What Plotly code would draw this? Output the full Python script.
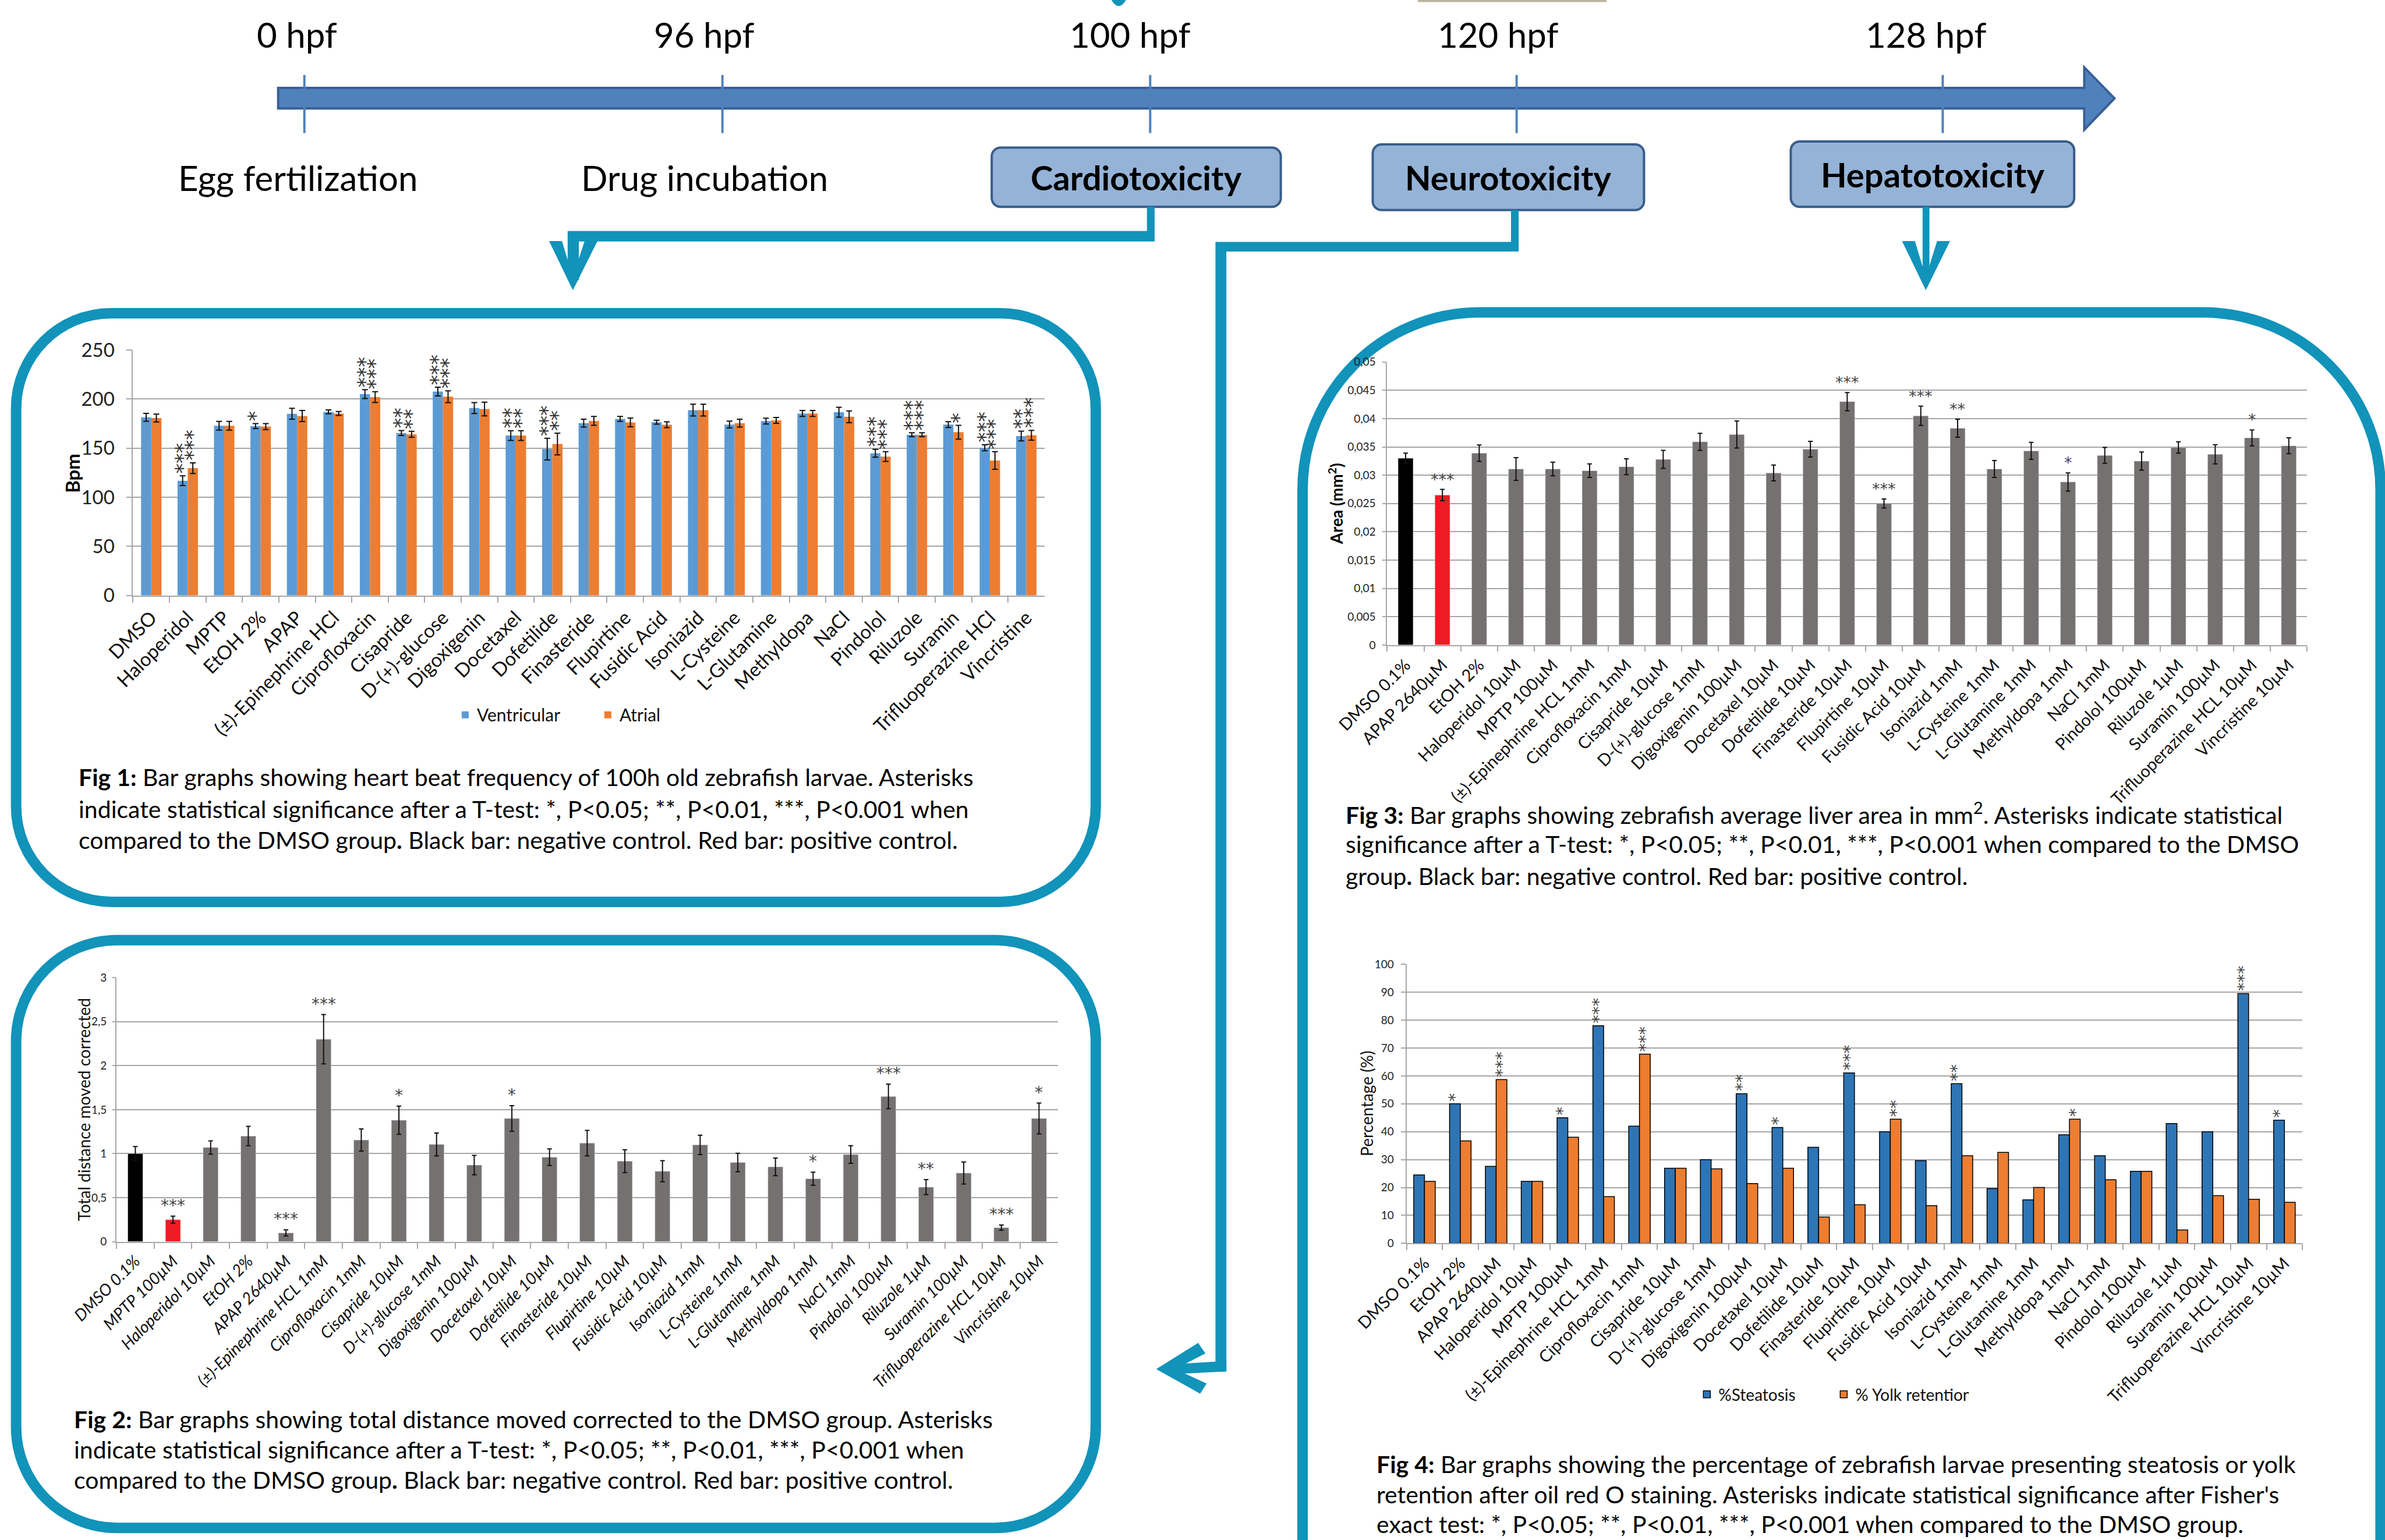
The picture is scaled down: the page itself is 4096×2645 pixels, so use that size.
import plotly.graph_objects as go

# ======================= DATA =======================
heart_categories = ["DMSO", "Haloperidol", "MPTP", "EtOH 2%", "APAP", "(±)-Epinephrine HCl",
                    "Ciprofloxacin", "Cisapride", "D-(+)-glucose", "Digoxigenin", "Docetaxel",
                    "Dofetilide", "Finasteride", "Flupirtine", "Fusidic Acid", "Isoniazid",
                    "L-Cysteine", "L-Glutamine", "Methyldopa", "NaCl", "Pindolol", "Riluzole",
                    "Suramin", "Trifluoperazine HCl", "Vincristine"]
heart_ventricular = [181.4, 116.8, 172.8, 172.5, 185.0, 186.9, 205.0, 165.4, 207.6, 190.8, 162.8,
                     149.0, 175.4, 179.8, 176.4, 188.7, 174.0, 177.5, 185.3, 186.6, 144.8, 163.6,
                     174.0, 150.3, 162.3]
heart_ventricular_err = [4, 5, 4.5, 2.5, 5.5, 2, 4.5, 2.5, 4.5, 5.5, 5, 11, 4, 2.5, 2, 6, 3.5, 3,
                         3, 5, 4, 2, 3, 3, 5]
heart_atrial = [180.6, 129.6, 172.8, 172.0, 182.7, 185.3, 202.0, 164.1, 202.4, 189.8, 162.8,
                154.2, 177.7, 176.2, 173.8, 188.7, 175.4, 178.3, 185.3, 181.9, 141.4, 163.6,
                166.2, 137.4, 163.1]
heart_atrial_err = [4, 5.4, 4.5, 3, 5.6, 2, 5.5, 3, 6, 7, 5, 11, 4.5, 4.5, 3, 6, 4, 3, 3, 6, 5,
                    2, 7, 9, 5]
heart_ventricular_sig = ["", "***", "", "*", "", "", "***", "**", "***", "", "**", "***", "", "",
                         "", "", "", "", "", "", "***", "***", "", "***", "**"]
heart_atrial_sig = ["", "***", "", "", "", "", "***", "**", "***", "", "**", "**", "", "", "",
                    "", "", "", "", "", "***", "***", "*", "***", "***"]

neuro_categories = ["DMSO 0.1%", "MPTP 100µM", "Haloperidol 10µM", "EtOH 2%", "APAP 2640µM",
                    "(±)-Epinephrine HCL 1mM", "Ciprofloxacin 1mM", "Cisapride 10µM",
                    "D-(+)-glucose 1mM", "Digoxigenin 100µM", "Docetaxel 10µM", "Dofetilide 10µM",
                    "Finasteride 10µM", "Flupirtine 10µM", "Fusidic Acid 10µM", "Isoniazid 1mM",
                    "L-Cysteine 1mM", "L-Glutamine 1mM", "Methyldopa 1mM", "NaCl 1mM",
                    "Pindolol 100µM", "Riluzole 1µM", "Suramin 100µM", "Trifluoperazine HCL 10µM",
                    "Vincristine 10µM"]
neuro_distance = [1.00, 0.25, 1.07, 1.20, 0.10, 2.30, 1.155, 1.38, 1.105, 0.87, 1.40, 0.96, 1.12,
                  0.915, 0.80, 1.10, 0.90, 0.85, 0.715, 0.99, 1.65, 0.62, 0.78, 0.16, 1.40]
neuro_err = [0.08, 0.04, 0.075, 0.11, 0.035, 0.28, 0.125, 0.16, 0.13, 0.11, 0.145, 0.095, 0.145,
             0.13, 0.12, 0.11, 0.105, 0.10, 0.075, 0.10, 0.14, 0.085, 0.125, 0.03, 0.175]
neuro_sig = ["", "***", "", "", "***", "***", "", "*", "", "", "*", "", "", "", "", "", "", "",
             "*", "", "***", "**", "", "***", "*"]
neuro_positive = "MPTP 100µM"

liver_categories = ["DMSO 0.1%", "APAP 2640µM", "EtOH 2%", "Haloperidol 10µM", "MPTP 100µM",
                    "(±)-Epinephrine HCL 1mM", "Ciprofloxacin 1mM", "Cisapride 10µM",
                    "D-(+)-glucose 1mM", "Digoxigenin 100µM", "Docetaxel 10µM", "Dofetilide 10µM",
                    "Finasteride 10µM", "Flupirtine 10µM", "Fusidic Acid 10µM", "Isoniazid 1mM",
                    "L-Cysteine 1mM", "L-Glutamine 1mM", "Methyldopa 1mM", "NaCl 1mM",
                    "Pindolol 100µM", "Riluzole 1µM", "Suramin 100µM", "Trifluoperazine HCL 10µM",
                    "Vincristine 10µM"]
liver_area = [0.0330, 0.0265, 0.0339, 0.0311, 0.0311, 0.0308, 0.0315, 0.0328, 0.0359, 0.0372,
              0.0304, 0.0346, 0.0430, 0.0250, 0.0405, 0.0383, 0.0311, 0.0343, 0.0288, 0.0335,
              0.0325, 0.0349, 0.0337, 0.0366, 0.0352]
liver_err = [0.0009, 0.0010, 0.00145, 0.0020, 0.0012, 0.0012, 0.0014, 0.0016, 0.0015, 0.0024,
             0.0014, 0.0014, 0.0016, 0.0008, 0.0017, 0.0016, 0.0015, 0.0015, 0.0016, 0.0014,
             0.0016, 0.0010, 0.0017, 0.0014, 0.0014]
liver_sig = ["", "***", "", "", "", "", "", "", "", "", "", "", "***", "***", "***", "**", "", "",
             "*", "", "", "", "", "*", ""]
liver_positive = "APAP 2640µM"

steatosis_categories = ["DMSO 0.1%", "EtOH 2%", "APAP 2640µM", "Haloperidol 10µM", "MPTP 100µM",
                        "(±)-Epinephrine HCL 1mM", "Ciprofloxacin 1mM", "Cisapride 10µM",
                        "D-(+)-glucose 1mM", "Digoxigenin 100µM", "Docetaxel 10µM",
                        "Dofetilide 10µM", "Finasteride 10µM", "Flupirtine 10µM",
                        "Fusidic Acid 10µM", "Isoniazid 1mM", "L-Cysteine 1mM", "L-Glutamine 1mM",
                        "Methyldopa 1mM", "NaCl 1mM", "Pindolol 100µM", "Riluzole 1µM",
                        "Suramin 100µM", "Trifluoperazine HCL 10µM", "Vincristine 10µM"]
steatosis_pct = [24.5, 50.0, 27.6, 22.2, 45.0, 78.0, 42.0, 26.9, 30.0, 53.6, 41.5, 34.4, 61.1,
                 40.0, 29.6, 57.2, 19.6, 15.6, 38.9, 31.4, 25.8, 42.9, 40.0, 89.5, 44.1]
yolk_pct = [22.2, 36.7, 58.7, 22.2, 38.0, 16.7, 67.8, 26.9, 26.7, 21.4, 26.9, 9.4, 13.8, 44.5,
            13.5, 31.4, 32.6, 20.0, 44.5, 22.8, 25.8, 4.8, 17.1, 15.8, 14.7]
steatosis_sig = ["", "*", "", "", "*", "***", "", "", "", "**", "*", "", "***", "", "", "**", "",
                 "", "", "", "", "", "", "***", "*"]
yolk_sig = ["", "", "***", "", "", "", "***", "", "", "", "", "", "", "**", "", "", "", "", "*",
            "", "", "", "", "", ""]

timeline_labels = ["0 hpf", "96 hpf", "100 hpf", "120 hpf", "128 hpf"]
stage_labels = ["Egg fertilization", "Drug incubation"]
assay_labels = ["Cardiotoxicity", "Neurotoxicity", "Hepatotoxicity"]

captions = {
    "fig1": ["<b>Fig 1:</b> Bar graphs showing heart beat frequency of 100h old zebrafish larvae. Asterisks",
             "indicate statistical significance after a T-test: *, P<0.05; **, P<0.01, ***, P<0.001 when",
             "compared to the DMSO group<b>.</b> Black bar: negative control. Red bar: positive control."],
    "fig2": ["<b>Fig 2:</b> Bar graphs showing total distance moved corrected to the DMSO group. Asterisks",
             "indicate statistical significance after a T-test: *, P<0.05; **, P<0.01, ***, P<0.001 when",
             "compared to the DMSO group<b>.</b> Black bar: negative control. Red bar: positive control."],
    "fig3": ["<b>Fig 3:</b> Bar graphs showing zebrafish average liver area in mm<sup>2</sup>. Asterisks indicate statistical",
             "significance after a T-test: *, P<0.05; **, P<0.01, ***, P<0.001 when compared to the DMSO",
             "group<b>.</b> Black bar: negative control. Red bar: positive control."],
    "fig4": ["<b>Fig 4:</b> Bar graphs showing the percentage of zebrafish larvae presenting steatosis or yolk",
             "retention after oil red O staining. Asterisks indicate statistical significance after Fisher's",
             "exact test: *, P<0.05; **, P<0.01, ***, P<0.001 when compared to the DMSO group."],
}

# ======================= GEOMETRY HELPERS =======================
W, H = 4096, 2645
RW, RH = 5916.0, 3820.0
S = W / RW
FONT = "Lato"
STAR_FONT = "DejaVu Sans"
TEAL = "#1193BA"


def X(v):
    return v / RW


def Y(v):
    return 1 - v / RH


def P(v):
    return v * S


def pt(x, y):
    return f"{X(x):.5f},{Y(y):.5f}"


K = 0.5523


def rounded_rect(x0, y0, x1, y1, r):
    k = K * r
    return (f"M {pt(x0 + r, y0)} L {pt(x1 - r, y0)} "
            f"C {pt(x1 - r + k, y0)} {pt(x1, y0 + r - k)} {pt(x1, y0 + r)} "
            f"L {pt(x1, y1 - r)} C {pt(x1, y1 - r + k)} {pt(x1 - r + k, y1)} {pt(x1 - r, y1)} "
            f"L {pt(x0 + r, y1)} C {pt(x0 + r - k, y1)} {pt(x0, y1 - r + k)} {pt(x0, y1 - r)} "
            f"L {pt(x0, y0 + r)} C {pt(x0, y0 + r - k)} {pt(x0 + r - k, y0)} {pt(x0 + r, y0)} Z")


def poly(points):
    return "M " + " L ".join(pt(a, b) for a, b in points) + " Z"


# subplot areas (reference pixel coords)
D1 = dict(x=(330, 2591), y=(868, 1477))
D2 = dict(x=(289, 2624), y=(2425, 3080))
D3 = dict(x=(3441, 5723), y=(898, 1600))
D4 = dict(x=(3489, 5711), y=(2392, 3084))

GRID = "#A6A6A6"

fig = go.Figure()

# ---------- Fig 1 ----------
W1 = 0.28
fig.add_trace(go.Bar(x=heart_categories, y=heart_ventricular, name="Ventricular",
                     marker=dict(color="#5B9BD5", line=dict(width=0)), width=W1, offset=-W1,
                     error_y=dict(type="data", array=heart_ventricular_err, color="#111",
                                  thickness=2, width=5),
                     xaxis="x", yaxis="y", legend="legend"))
fig.add_trace(go.Bar(x=heart_categories, y=heart_atrial, name="Atrial",
                     marker=dict(color="#ED7D31", line=dict(width=0)), width=W1, offset=0,
                     error_y=dict(type="data", array=heart_atrial_err, color="#111",
                                  thickness=2, width=5),
                     xaxis="x", yaxis="y", legend="legend"))

# ---------- Fig 2 ----------
W2 = 0.40
neuro_colors = ["#000000" if i == 0 else ("#ED1C24" if c == neuro_positive else "#767171")
                for i, c in enumerate(neuro_categories)]
fig.add_trace(go.Bar(x=neuro_categories, y=neuro_distance, marker=dict(color=neuro_colors),
                     width=W2, offset=-W2 / 2, showlegend=False,
                     error_y=dict(type="data", array=neuro_err, color="#111", thickness=2, width=4),
                     xaxis="x2", yaxis="y2"))

# ---------- Fig 3 ----------
W3 = 0.41
liver_colors = ["#000000" if i == 0 else ("#ED1C24" if c == liver_positive else "#767171")
                for i, c in enumerate(liver_categories)]
fig.add_trace(go.Bar(x=liver_categories, y=liver_area, marker=dict(color=liver_colors),
                     width=W3, offset=-W3 / 2, showlegend=False,
                     error_y=dict(type="data", array=liver_err, color="#111", thickness=2, width=4),
                     xaxis="x3", yaxis="y3"))

# ---------- Fig 4 ----------
W4 = 0.30
fig.add_trace(go.Bar(x=steatosis_categories, y=steatosis_pct, name="%Steatosis",
                     marker=dict(color="#2E75B6", line=dict(color="#000", width=1.5)),
                     width=W4, offset=-W4, xaxis="x4", yaxis="y4", legend="legend2"))
fig.add_trace(go.Bar(x=steatosis_categories, y=yolk_pct, name="% Yolk retention",
                     marker=dict(color="#ED7D31", line=dict(color="#000", width=1.5)),
                     width=W4, offset=0, xaxis="x4", yaxis="y4", legend="legend2"))


def xaxis(D, anchor, size, italic, ticklen):
    return dict(domain=[X(D["x"][0]), X(D["x"][1])], anchor=anchor, type="category",
                tickangle=-45, showline=True, linecolor=GRID, linewidth=2, automargin=False,
                ticks="outside", tickson="boundaries", ticklen=ticklen, tickcolor=GRID,
                tickwidth=2, showgrid=False, ticklabelstandoff=4,
                tickfont=dict(family=FONT, size=size, color="#111",
                              style="italic" if italic else "normal"))


def yaxis(D, anchor, rng, dtick, size, ticklen, tickformat=None, standoff=6):
    d = dict(domain=[Y(D["y"][1]), Y(D["y"][0])], anchor=anchor, range=rng, dtick=dtick,
             showgrid=True, gridcolor=GRID, gridwidth=2, showline=True, linecolor=GRID,
             linewidth=2, zeroline=False, ticks="outside", ticklen=ticklen, tickcolor=GRID,
             tickwidth=2, ticklabelstandoff=standoff, automargin=False,
             tickfont=dict(family=FONT, size=size, color="#222"))
    if tickformat:
        d["tickformat"] = tickformat
    return d


fig.update_layout(
    width=W, height=H, margin=dict(l=0, r=0, t=0, b=0, pad=0, autoexpand=False),
    paper_bgcolor="white", plot_bgcolor="white",
    font=dict(family=FONT, color="#000"),
    separators=",.",
    barmode="overlay",
    xaxis=xaxis(D1, "y", 33, False, 10),
    yaxis=yaxis(D1, "x", [0, 250], 50, 33, 9, standoff=14),
    xaxis2=xaxis(D2, "y2", 28, True, 10),
    yaxis2=yaxis(D2, "x2", [0, 3], 0.5, 19, 5, tickformat="~g", standoff=6),
    xaxis3=xaxis(D3, "y3", 29, False, 9),
    yaxis3=yaxis(D3, "x3", [0, 0.05], 0.005, 19, 6, tickformat="~g", standoff=8),
    xaxis4=xaxis(D4, "y4", 29, False, 10),
    yaxis4=yaxis(D4, "x4", [0, 100], 10, 19, 8, standoff=8),
    legend=dict(orientation="h", x=X(1125), y=Y(1773), xanchor="left", yanchor="middle",
                font=dict(family=FONT, size=30, color="#111"), bgcolor="rgba(0,0,0,0)",
                itemwidth=30, traceorder="normal", entrywidth=200, entrywidthmode="pixels"),
    legend2=dict(orientation="h", x=X(4205), y=Y(3459), xanchor="left", yanchor="middle",
                 font=dict(family=FONT, size=28, color="#111"), bgcolor="rgba(0,0,0,0)",
                 itemwidth=30, traceorder="normal", entrywidth=190, entrywidthmode="pixels"),
)

annotations = []


def slot(D, n):
    return P(D["x"][1] - D["x"][0]) / n


STAR = "#333333"
# significance stars
s1 = slot(D1, len(heart_categories)) * W1 / 2
for c, v, e, s in zip(heart_categories, heart_ventricular, heart_ventricular_err, heart_ventricular_sig):
    if s:
        annotations.append(dict(x=c, y=v + e, xref="x", yref="y", text=s, showarrow=False,
                                textangle=-90, xanchor="center", yanchor="bottom", xshift=-s1,
                                yshift=2, font=dict(family=STAR_FONT, size=35, color=STAR)))
for c, v, e, s in zip(heart_categories, heart_atrial, heart_atrial_err, heart_atrial_sig):
    if s:
        annotations.append(dict(x=c, y=v + e, xref="x", yref="y", text=s, showarrow=False,
                                textangle=-90, xanchor="center", yanchor="bottom", xshift=s1,
                                yshift=2, font=dict(family=STAR_FONT, size=35, color=STAR)))
for c, v, e, s in zip(neuro_categories, neuro_distance, neuro_err, neuro_sig):
    if s:
        annotations.append(dict(x=c, y=v + e, xref="x2", yref="y2", text=s, showarrow=False,
                                xanchor="center", yanchor="bottom", yshift=0,
                                font=dict(family=STAR_FONT, size=28, color="#444")))
for c, v, e, s in zip(liver_categories, liver_area, liver_err, liver_sig):
    if s:
        annotations.append(dict(x=c, y=v + e, xref="x3", yref="y3", text=s, showarrow=False,
                                xanchor="center", yanchor="bottom", yshift=0,
                                font=dict(family=STAR_FONT, size=27, color="#444")))
s4 = slot(D4, len(steatosis_categories)) * W4 / 2
for c, v, s in zip(steatosis_categories, steatosis_pct, steatosis_sig):
    if s:
        annotations.append(dict(x=c, y=v, xref="x4", yref="y4", text=s, showarrow=False,
                                textangle=-90, xanchor="center", yanchor="bottom", xshift=-s4,
                                yshift=2, font=dict(family=STAR_FONT, size=29, color="#444")))
for c, v, s in zip(steatosis_categories, yolk_pct, yolk_sig):
    if s:
        annotations.append(dict(x=c, y=v, xref="x4", yref="y4", text=s, showarrow=False,
                                textangle=-90, xanchor="center", yanchor="bottom", xshift=s4,
                                yshift=2, font=dict(family=STAR_FONT, size=29, color="#444")))

# axis titles
annotations += [
    dict(x=X(179), y=Y(1174), xref="paper", yref="paper", text="<b>Bpm</b>", textangle=-90,
         showarrow=False, xanchor="center", yanchor="middle",
         font=dict(family=FONT, size=33, color="#000")),
    dict(x=X(208), y=Y(2753), xref="paper", yref="paper", text="Total distance moved corrected",
         textangle=-90, showarrow=False, xanchor="center", yanchor="middle",
         font=dict(family=FONT, size=28, color="#111")),
    dict(x=X(3314), y=Y(1249), xref="paper", yref="paper", text="<b>Area (mm<sup>2</sup>)</b>",
         textangle=-90, showarrow=False, xanchor="center", yanchor="middle",
         font=dict(family=FONT, size=28, color="#000")),
    dict(x=X(3390), y=Y(2738), xref="paper", yref="paper", text="Percentage (%)",
         textangle=-90, showarrow=False, xanchor="center", yanchor="middle",
         font=dict(family=FONT, size=28, color="#111")),
]

# captions
cap_pos = {"fig1": (192, [1928, 2007, 2083]), "fig2": (181, [3520, 3596, 3671]),
           "fig3": (3335, [2018, 2094, 2173]), "fig4": (3411, [3632, 3706, 3780])}
for key, lines in captions.items():
    x0, ys = cap_pos[key]
    for line, yy in zip(lines, ys):
        annotations.append(dict(x=X(x0), y=Y(yy), xref="paper", yref="paper", text=line,
                                showarrow=False, xanchor="left", yanchor="middle",
                                font=dict(family=FONT, size=41, color="#000")))

# timeline text
tl_label_x = [736, 1747, 2803, 3716, 4777]
for t, xx in zip(timeline_labels, tl_label_x):
    annotations.append(dict(x=X(xx), y=Y(85), xref="paper", yref="paper", text=t,
                            showarrow=False, xanchor="center", yanchor="middle",
                            font=dict(family=FONT, size=60, color="#000")))
for t, xx in zip(stage_labels, [740, 1747]):
    annotations.append(dict(x=X(xx), y=Y(441), xref="paper", yref="paper", text=t,
                            showarrow=False, xanchor="center", yanchor="middle",
                            font=dict(family=FONT, size=60, color="#000")))
boxes = [(2460, 366, 3177, 513), (3405, 358, 4078, 521), (4442, 351, 5145, 513)]
for t, (bx0, by0, bx1, by1) in zip(assay_labels, boxes):
    annotations.append(dict(x=X((bx0 + bx1) / 2), y=Y((by0 + by1) / 2), xref="paper",
                            yref="paper", text=f"<b>{t}</b>", showarrow=False,
                            xanchor="center", yanchor="middle",
                            font=dict(family=FONT, size=58, color="#000")))

fig.update_layout(annotations=annotations)

# ======================= SHAPES =======================
shapes = []
BW = P(26)
# panels
shapes.append(dict(type="path", xref="paper", yref="paper",
                   path=rounded_rect(40, 777, 2718, 2237, 236),
                   line=dict(color=TEAL, width=BW), layer="below"))
shapes.append(dict(type="path", xref="paper", yref="paper",
                   path=rounded_rect(40, 2332, 2718, 3790, 250),
                   line=dict(color=TEAL, width=BW), layer="below"))
R = 440
k = K * R
big = (f"M {pt(3231, 3950)} L {pt(3231, 775 + R)} "
       f"C {pt(3231, 775 + R - k)} {pt(3231 + R - k, 775)} {pt(3231 + R, 775)} "
       f"L {pt(5905 - R, 775)} C {pt(5905 - R + k, 775)} {pt(5905, 775 + R - k)} {pt(5905, 775 + R)} "
       f"L {pt(5905, 3950)}")
shapes.append(dict(type="path", xref="paper", yref="paper", path=big,
                   line=dict(color=TEAL, width=BW), layer="below"))

# timeline arrow
shapes.append(dict(type="path", xref="paper", yref="paper",
                   path=poly([(690, 218), (5170, 218), (5170, 167), (5245, 244), (5170, 322),
                              (5170, 269), (690, 269)]),
                   fillcolor="#4F81BD", line=dict(color="#3A5F94", width=4)))
for xx in [755, 1792, 2853, 3762, 4819]:
    shapes.append(dict(type="line", xref="paper", yref="paper", x0=X(xx), x1=X(xx),
                       y0=Y(186), y1=Y(330), line=dict(color="#4F81BD", width=4)))

# assay boxes
for (bx0, by0, bx1, by1) in boxes:
    shapes.append(dict(type="path", xref="paper", yref="paper",
                       path=rounded_rect(bx0, by0, bx1, by1, 22),
                       fillcolor="#95B3D7", line=dict(color="#385D8A", width=4)))

# connectors
teal = dict(type="path", xref="paper", yref="paper", fillcolor=TEAL, line=dict(width=0))
shapes.append(dict(teal, path=poly([(2845, 513), (2864, 513), (2864, 599), (1436, 599),
                                    (1436, 695), (1408, 695), (1408, 573), (2845, 573)])))
shapes.append(dict(teal, path=poly([(1362, 598), (1394, 598), (1421, 688), (1450, 598),
                                    (1482, 598), (1421, 720)])))
shapes.append(dict(teal, path=poly([(4769, 513), (4786, 513), (4786, 695), (4769, 695)])))
shapes.append(dict(teal, path=poly([(4718, 598), (4750, 598), (4777, 688), (4805, 598),
                                    (4837, 598), (4777, 720)])))
shapes.append(dict(teal, path=poly([(3748, 521), (3767, 521), (3767, 624), (3042, 624),
                                    (3042, 3402), (3015, 3402), (3015, 600), (3748, 600)])))
shapes.append(dict(teal, path=poly([(2905, 3384), (3042, 3376), (3042, 3402), (2905, 3409)])))
shapes.append(dict(teal, path=poly([(2868, 3396), (2972, 3331), (2990, 3357), (2915, 3396),
                                    (2993, 3432), (2977, 3457)])))
# cropped remnants at the very top
shapes.append(dict(teal, path=f"M {pt(2757, 0)} Q {pt(2775, 30)} {pt(2793, 0)} Z"))
shapes.append(dict(type="rect", xref="paper", yref="paper", x0=X(3517), x1=X(3985),
                   y0=Y(5), y1=Y(0), fillcolor="#B9B49C", line=dict(width=0)))

fig.update_layout(shapes=shapes)

fig.write_html("out.html")
